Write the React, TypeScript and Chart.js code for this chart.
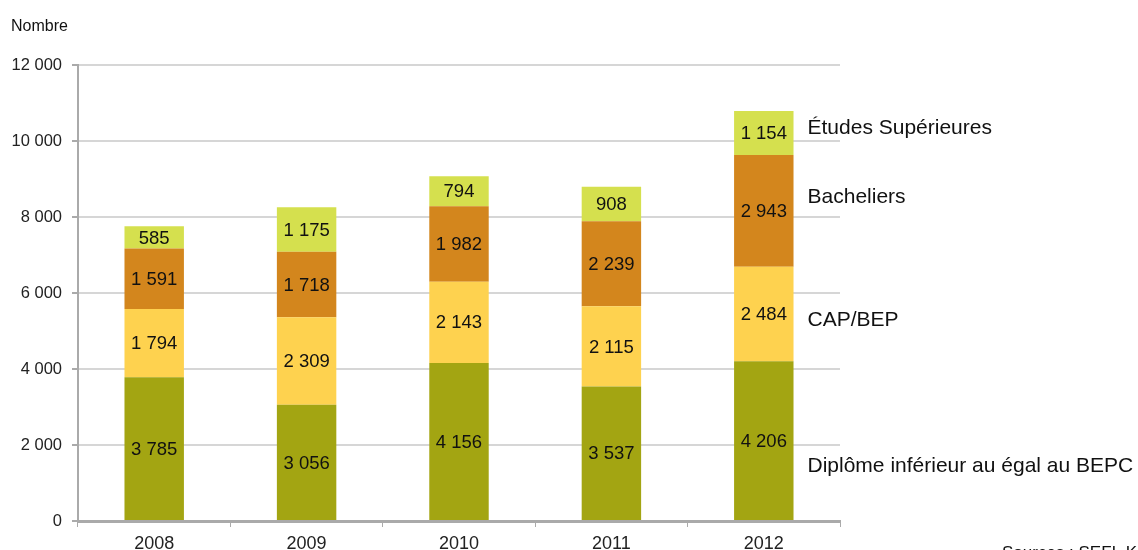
import React, { useEffect, useRef } from "react";
import { Chart, registerables } from "chart.js";

Chart.register(...registerables);

const years = ["2008", "2009", "2010", "2011", "2012"];
const diplomeInferieur = [3785, 3056, 4156, 3537, 4206];
const capBep = [1794, 2309, 2143, 2115, 2484];
const bacheliers = [1591, 1718, 1982, 2239, 2943];
const etudesSup = [585, 1175, 794, 908, 1154];
const seriesNames = [
  "Diplôme inférieur au égal au BEPC",
  "CAP/BEP",
  "Bacheliers",
  "Études Supérieures",
];
const seriesLabelAnchors = [1450, 5290, 8520, 10340];
const yTicks = [0, 2000, 4000, 6000, 8000, 10000, 12000];
const yTitle = "Nombre";
const sourceText = "Sources : SEFI, Kalif";

const FONT = "'Liberation Sans', Arial, Helvetica, sans-serif";
const fmt = (v: number) => String(Math.round(v)).replace(/\B(?=(\d{3})+(?!\d))/g, " ");

const labelsPlugin = {
  id: "customLabels",
  afterDatasetsDraw(chart: any) {
    const ctx = chart.ctx;
    ctx.save();
    ctx.fillStyle = "#111";
    ctx.font = `18.5px ${FONT}`;
    ctx.textAlign = "center";
    ctx.textBaseline = "middle";
    chart.data.datasets.forEach((ds: any, di: number) => {
      const meta = chart.getDatasetMeta(di);
      meta.data.forEach((el: any, i: number) => {
        const y = (el.y + el.base) / 2;
        ctx.fillText(fmt(ds.data[i]), el.x, y + 1);
      });
    });
    const yScale = chart.scales.y;
    const lastMeta = chart.getDatasetMeta(0);
    const lastEl: any = lastMeta.data[lastMeta.data.length - 1];
    const xText = lastEl.x + lastEl.width / 2 + 14;
    ctx.font = `21px ${FONT}`;
    ctx.textAlign = "left";
    seriesNames.forEach((name, i) => {
      ctx.fillText(name, xText, yScale.getPixelForValue(seriesLabelAnchors[i]));
    });
    ctx.font = `16px ${FONT}`;
    ctx.fillText(yTitle, 11, 27);
    ctx.font = `17px ${FONT}`;
    ctx.textBaseline = "top";
    ctx.fillText(sourceText, 1002, 545);
    ctx.restore();
  },
};

export default function App() {
  const ref = useRef<HTMLCanvasElement>(null);
  useEffect(() => {
    if (!ref.current) return;
    const chart = new Chart(ref.current, {
      type: "bar",
      data: {
        labels: years,
        datasets: [
          { label: seriesNames[0], data: diplomeInferieur, backgroundColor: "#a3a512" },
          { label: seriesNames[1], data: capBep, backgroundColor: "#fed24f" },
          { label: seriesNames[2], data: bacheliers, backgroundColor: "#d3861d" },
          { label: seriesNames[3], data: etudesSup, backgroundColor: "#d5e04e" },
        ],
      },
      options: {
        animation: false,
        responsive: true,
        maintainAspectRatio: false,
        layout: { padding: { top: 65, right: 298, bottom: 0, left: 0 } },
        plugins: { legend: { display: false }, tooltip: { enabled: false } },
        datasets: { bar: { barPercentage: 0.39, categoryPercentage: 1 } },
        scales: {
          x: {
            stacked: true,
            grid: {
              offset: true,
              drawOnChartArea: false,
              drawTicks: true,
              tickLength: 6,
              tickColor: "#aaaaaa",
              lineWidth: 1,
            },
            border: { color: "#aaaaaa", width: 3 },
            ticks: { color: "#222", font: { family: FONT, size: 18 }, padding: 6 },
            afterFit(scale: any) {
              scale.height = 29;
            },
          },
          y: {
            stacked: true,
            min: 0,
            max: 12000,
            afterBuildTicks(scale: any) {
              scale.ticks = yTicks.map((v) => ({ value: v }));
            },
            grid: {
              color: "#d6d6d6",
              lineWidth: 2,
              tickLength: 6,
              tickColor: "#aaaaaa",
            },
            border: { color: "#aaaaaa", width: 2 },
            ticks: {
              color: "#222",
              font: { family: FONT, size: 16.5 },
              padding: 10,
              callback: (v: any) => fmt(Number(v)),
            },
            afterFit(scale: any) {
              scale.width = 78;
            },
          },
        },
      },
      plugins: [labelsPlugin],
    } as any);
    return () => chart.destroy();
  }, []);
  return (
    <div style={{ position: "fixed", left: 0, top: 0, width: 1138, height: 550, background: "#fff" }}>
      <canvas ref={ref} />
    </div>
  );
}
